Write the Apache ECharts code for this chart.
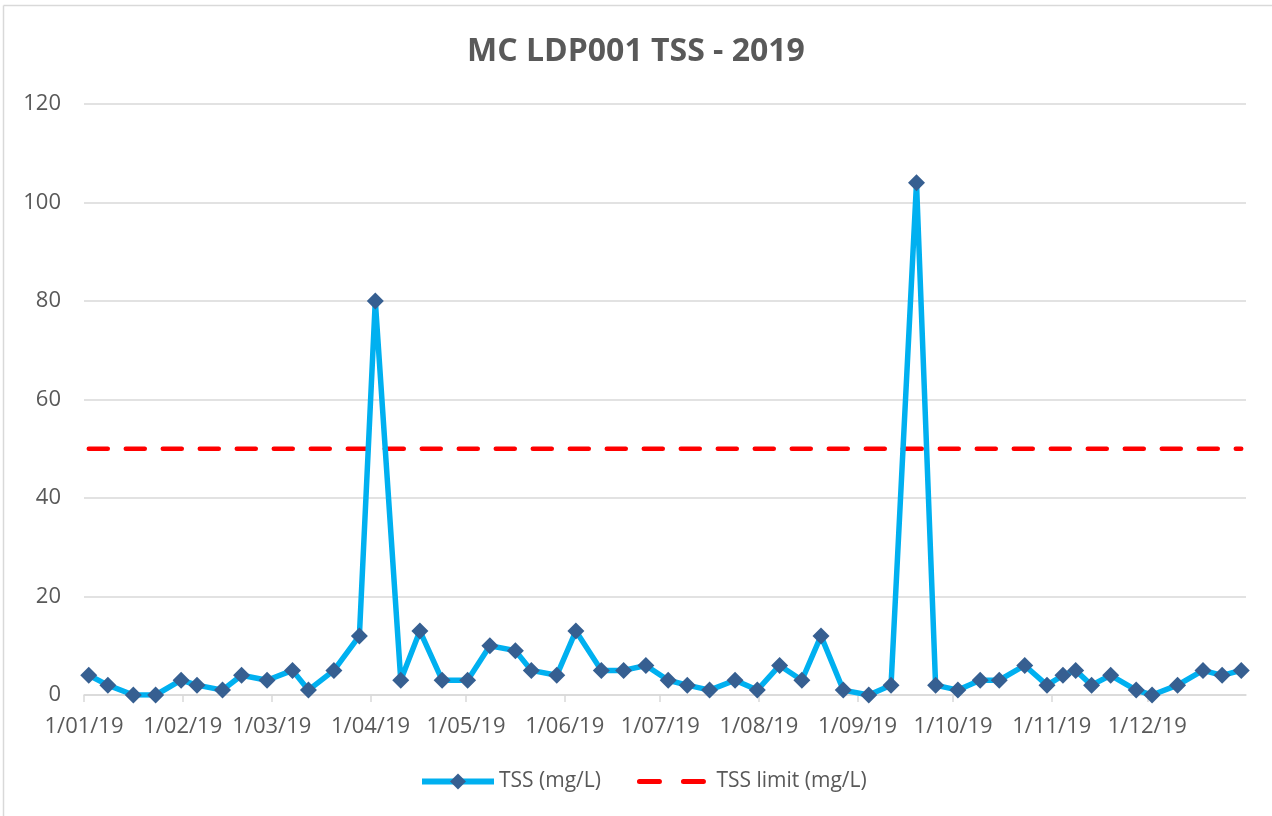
<!DOCTYPE html>
<html>
<head>
<meta charset="utf-8">
<title>MC LDP001 TSS - 2019</title>
<script src="https://cdn.jsdelivr.net/npm/echarts@6/dist/echarts.min.js"></script>
<style>
  html, body { margin: 0; padding: 0; background: #fff; }
  #main { width: 1272px; height: 816px; }
</style>
</head>
<body>
<div id="main"></div>
<script>
// sample dates (2019) and TSS results
var sampleDates = [
  '2019-01-02', '2019-01-08', '2019-01-16', '2019-01-23', '2019-01-31',
  '2019-02-05', '2019-02-13', '2019-02-19', '2019-02-27',
  '2019-03-07', '2019-03-12', '2019-03-20', '2019-03-28',
  '2019-04-02', '2019-04-10', '2019-04-16', '2019-04-23',
  '2019-05-01', '2019-05-08', '2019-05-16', '2019-05-21', '2019-05-29',
  '2019-06-04', '2019-06-12', '2019-06-19', '2019-06-26',
  '2019-07-03', '2019-07-09', '2019-07-16', '2019-07-24', '2019-07-31',
  '2019-08-07', '2019-08-14', '2019-08-20', '2019-08-27',
  '2019-09-04', '2019-09-11', '2019-09-19', '2019-09-25',
  '2019-10-02', '2019-10-09', '2019-10-15', '2019-10-23', '2019-10-30',
  '2019-11-04', '2019-11-08', '2019-11-13', '2019-11-19', '2019-11-27',
  '2019-12-02', '2019-12-10', '2019-12-18', '2019-12-24', '2019-12-30'
];
var tssValues = [
  4, 2, 0, 0, 3,
  2, 1, 4, 3,
  5, 1, 5, 12,
  80, 3, 13, 3,
  3, 10, 9, 5, 4,
  13, 5, 5, 6,
  3, 2, 1, 3, 1,
  6, 3, 12, 1,
  0, 2, 104, 2,
  1, 3, 3, 6, 2,
  4, 5, 2, 4, 1,
  0, 2, 5, 4, 5
];
var tssLimit = 50;

var axisStart = '2019-01-01';
var axisEnd = '2020-01-01';

var textColor = '#595959';
var fontFamily = '"Open Sans", "Liberation Sans", sans-serif';

// Excel puts each date in the middle of its day slot
function toPoint(d, v) {
  return [d + 'T12:00:00', v];
}

var tssData = sampleDates.map(function (d, i) { return toPoint(d, tssValues[i]); });
var limitData = sampleDates.map(function (d) { return toPoint(d, tssLimit); });

var chart = echarts.init(document.getElementById('main'), null, { renderer: 'canvas' });

var option = {
  backgroundColor: '#ffffff',
  animation: false,
  title: {
    text: 'MC LDP001 TSS - 2019',
    left: 'center',
    top: 31,
    textStyle: {
      color: textColor,
      fontSize: 32,
      fontWeight: 'bold',
      fontFamily: fontFamily
    }
  },
  graphic: [
    { type: 'line', shape: { x1: 3.5, y1: 5.5, x2: 1272, y2: 5.5 }, style: { stroke: '#d9d9d9', lineWidth: 1.5 } },
    { type: 'line', shape: { x1: 3.5, y1: 5.5, x2: 3.5, y2: 816 }, style: { stroke: '#d9d9d9', lineWidth: 1.5 } }
  ],
  legend: {
    left: 414,
    top: 766,
    itemWidth: 72,
    itemHeight: 20,
    itemGap: 36,
    textStyle: { color: textColor, fontSize: 21, fontFamily: fontFamily },
    data: [
      {
        name: 'TSS (mg/L)',
        lineStyle: { width: 6 }
      },
      {
        name: 'TSS limit (mg/L)',
        itemStyle: { opacity: 0 },
        lineStyle: { width: 5, type: [20, 24], cap: 'round' }
      }
    ]
  },
  grid: {
    left: 84,
    right: 26,
    top: 104,
    bottom: 121,
    containLabel: false
  },
  xAxis: {
    type: 'time',
    min: axisStart,
    max: axisEnd,
    splitNumber: 12,
    axisLine: { show: true, lineStyle: { color: '#d9d9d9', width: 1.5 } },
    axisTick: { show: true, length: 7, lineStyle: { color: '#d9d9d9', width: 1.5 } },
    splitLine: { show: false },
    axisLabel: {
      color: textColor,
      fontSize: 22,
      fontFamily: fontFamily,
      margin: 21,
      hideOverlap: false,
      formatter: function (value) {
        var dt = new Date(value);
        if (dt.getFullYear() !== 2019) return '';
        var m = dt.getMonth() + 1;
        return dt.getDate() + '/' + (m < 10 ? '0' + m : m) + '/19';
      }
    }
  },
  yAxis: {
    type: 'value',
    min: 0,
    max: 120,
    interval: 20,
    axisLine: { show: false },
    axisTick: { show: false },
    splitLine: { lineStyle: { color: '#d9d9d9', width: 1.5 } },
    axisLabel: {
      color: textColor,
      fontSize: 22,
      fontFamily: fontFamily,
      margin: 23
    }
  },
  series: [
    {
      name: 'TSS (mg/L)',
      type: 'line',
      data: tssData,
      z: 3,
      symbol: 'diamond',
      symbolSize: 17,
      showAllSymbol: true,
      lineStyle: { color: '#00b0f0', width: 5.5, join: 'round' },
      itemStyle: { color: '#365f91' }
    },
    {
      name: 'TSS limit (mg/L)',
      type: 'line',
      data: limitData,
      z: 2,
      showSymbol: false,
      symbol: 'none',
      lineStyle: { color: '#ff0000', width: 4.5, type: [19, 18], cap: 'round' },
      itemStyle: { color: '#ff0000' }
    }
  ]
};

chart.setOption(option);
</script>
</body>
</html>
